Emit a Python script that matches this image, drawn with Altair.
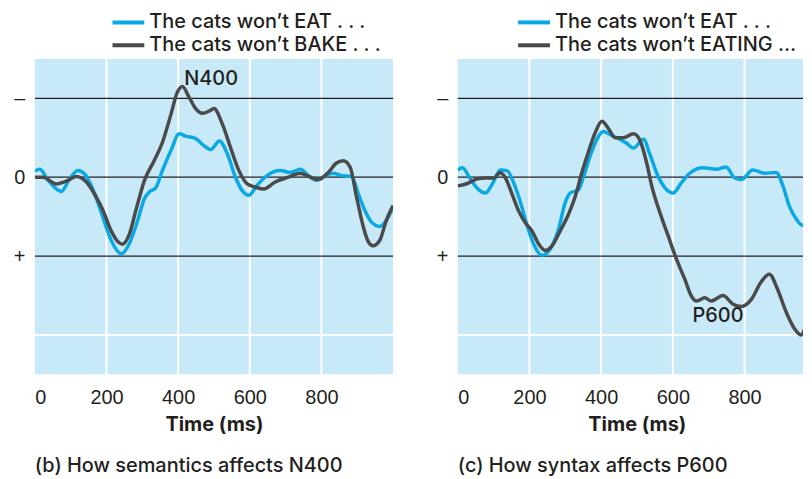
import altair as alt
import pandas as pd

FONT = "Inter"
NUM_FONT = "Liberation Sans"
TEXT = "#231f20"
BLUE = "#0aa8e4"
GRAY = "#4a4a4a"
BG = "#c8e9f8"

X_TICKS = [0, 200, 400, 600, 800]
X_GRID = [200, 400, 600, 800]
Y_TICKS = [-1, 0, 1]
Y_WHITE = [2]

# Panel (b): semantics
B_EAT_T = [0, 14, 37, 74, 97, 120, 139, 167, 190, 213, 241, 264, 287, 306, 319, 338, 356, 380, 403, 421,
           449, 472, 491, 515, 537, 560, 579, 597, 620, 648, 685, 713, 741, 764, 787, 810, 833, 856, 884,
           903, 921, 940, 963, 981, 1000]
B_EAT_V = [-0.08, -0.1, 0.04, 0.18, 0.02, -0.085, -0.04, 0.21, 0.51, 0.80, 0.97, 0.84, 0.55, 0.27, 0.19,
           0.13, -0.085, -0.34, -0.55, -0.52, -0.49, -0.40, -0.35, -0.46, -0.30, 0.0, 0.17, 0.23, 0.105,
           -0.02, -0.085, -0.06, -0.1, -0.02, 0.04, -0.02, -0.05, -0.02, -0.01, 0.21, 0.42, 0.57, 0.625,
           0.55, 0.38]
B_BAKE_T = [0, 23, 60, 88, 116, 144, 171, 190, 213, 232, 245, 264, 282, 306, 333, 356, 380, 398, 412, 431,
            449, 468, 491, 500, 523, 546, 569, 593, 616, 639, 671, 708, 741, 764, 792, 819, 842, 861, 880,
            898, 917, 931, 944, 963, 981, 1000]
B_BAKE_V = [0.0, 0.0, 0.085, 0.05, -0.01, 0.06, 0.25, 0.42, 0.68, 0.82, 0.85, 0.72, 0.42, 0.04, -0.21,
            -0.44, -0.80, -1.08, -1.15, -1.01, -0.87, -0.81, -0.85, -0.87, -0.68, -0.38, -0.09, 0.085,
            0.127, 0.15, 0.06, 0.0, -0.05, -0.01, 0.03, -0.06, -0.18, -0.21, -0.13, 0.25, 0.63, 0.82, 0.87,
            0.80, 0.55, 0.36]

# Panel (c): syntax
C_EAT_T = [0, 13, 36, 59, 78, 96, 119, 138, 156, 175, 194, 212, 235, 258, 281, 300, 314, 337, 351, 369,
           388, 406, 425, 453, 471, 490, 518, 536, 555, 578, 601, 624, 647, 684, 721, 749, 772, 791, 823,
           856, 888, 907, 925, 944, 962, 981, 1000]
C_EAT_V = [-0.09, -0.12, 0.03, 0.16, 0.2, 0.09, -0.09, -0.08, 0.07, 0.32, 0.62, 0.85, 0.99, 0.91, 0.66,
           0.32, 0.2, 0.16, -0.01, -0.265, -0.48, -0.58, -0.54, -0.48, -0.43, -0.37, -0.48, -0.29, -0.05,
           0.135, 0.2, 0.07, -0.05, -0.12, -0.1, -0.13, 0.01, 0.03, -0.09, -0.05, -0.06, 0.11, 0.37, 0.53,
           0.61, 0.47, 0.28]
C_EATING_T = [0, 27, 55, 78, 101, 118, 133, 152, 170, 189, 207, 226, 244, 263, 286, 309, 328, 346, 365,
              383, 402, 420, 439, 462, 490, 508, 527, 541, 564, 587, 610, 633, 652, 666, 689, 707, 740, 768,
              791, 819, 846, 869, 892, 916, 939, 957, 976, 986, 1000]
C_EATING_V = [0.11, 0.08, 0.02, 0.01, 0.01, -0.055, 0.01, 0.22, 0.43, 0.58, 0.68, 0.85, 0.93, 0.87, 0.68,
              0.47, 0.24, -0.055, -0.33, -0.56, -0.71, -0.62, -0.5, -0.5, -0.55, -0.47, -0.18, 0.11, 0.45,
              0.745, 1.04, 1.29, 1.51, 1.57, 1.53, 1.57, 1.5, 1.61, 1.64, 1.55, 1.33, 1.23, 1.42, 1.71, 1.92,
              2.0, 1.83, 1.71, 1.45]

B_NAMES = ["The cats won\u2019t EAT . . .", "The cats won\u2019t BAKE . . ."]
C_NAMES = ["The cats won\u2019t EAT . . .", "The cats won\u2019t EATING . . ."]
B_ANN = {"t": [492], "v": [-1.25], "label": ["N400"]}
C_ANN = {"t": [726], "v": [1.76], "label": ["P600"]}
B_CAPTION = "(b) How semantics affects N400"
C_CAPTION = "(c) How syntax affects P600"


def panel(t1, v1, t2, v2, names, ann, caption, lx, ly, xmax, width, title_dx, label_limit):
    df = pd.DataFrame({
        "t": t1 + t2,
        "v": v1 + v2,
        "cond": [names[0]] * len(t1) + [names[1]] * len(t2),
    })
    xs = alt.Scale(domain=[0, xmax], nice=False, zero=False)
    ys = alt.Scale(domain=[-1.5, 2.5], reverse=True, nice=False, zero=False)
    X = alt.X("t:Q", scale=xs, axis=alt.Axis(
        values=X_TICKS, title="Time (ms)", grid=False, ticks=False, domain=False,
        labelFontSize=20, labelFont=NUM_FONT, labelColor=TEXT, labelPadding=13,
        titleFontSize=20, titleFont=FONT, titleColor=TEXT, titleFontWeight="bold", titlePadding=7,
        titleX=width / 2 + title_dx))
    Y = alt.Y("v:Q", scale=ys, axis=alt.Axis(
        values=Y_TICKS, title=None, grid=False, ticks=False, domain=False,
        labelExpr="datum.value == -1 ? '\u2013' : (datum.value == 0 ? '0' : '+')",
        labelFontSize=20, labelFont=NUM_FONT, labelColor=TEXT, labelPadding=10))

    vgrid = alt.Chart(pd.DataFrame({"t": X_GRID})).mark_rule(color="white", strokeWidth=2).encode(x=X)
    hwhite = alt.Chart(pd.DataFrame({"v": Y_WHITE})).mark_rule(color="white", strokeWidth=2).encode(y=Y)
    hblack = alt.Chart(pd.DataFrame({"v": Y_TICKS})).mark_rule(color=TEXT, strokeWidth=1.3).encode(y=Y)
    lines = alt.Chart(df).mark_line(strokeWidth=3.5, interpolate="monotone", clip=True).encode(
        x=X, y=Y,
        color=alt.Color("cond:N", sort=names,
                        scale=alt.Scale(domain=names, range=[BLUE, GRAY]),
                        legend=alt.Legend(orient="none", legendX=lx, legendY=ly, title=None,
                                          symbolType="M-2,0H2", symbolSize=256, symbolStrokeWidth=4,
                                          labelFontSize=20, labelFont=FONT, labelFontWeight=500,
                                          labelColor=TEXT, labelOffset=11, rowPadding=3, padding=0,
                                          labelLimit=label_limit)),
        detail="cond:N",
    )
    text = alt.Chart(pd.DataFrame(ann)).mark_text(
        fontSize=20, font=FONT, fontWeight=500, color=TEXT).encode(x=X, y=Y, text="label:N")
    return alt.layer(vgrid, hwhite, hblack, lines, text).properties(
        width=width, height=317,
        title=alt.TitleParams(text=caption, orient="bottom", anchor="start", frame="group",
                              fontSize=20, fontWeight=500, font=FONT, color=TEXT, offset=22),
    )


left = panel(B_EAT_T, B_EAT_V, B_BAKE_T, B_BAKE_V, B_NAMES, B_ANN, B_CAPTION,
             84, -46.7, 1000, 360, 0, 400)
right = panel(C_EAT_T, C_EAT_V, C_EATING_T, C_EATING_V, C_NAMES, C_ANN, C_CAPTION,
              66.7, -46.7, 963, 347, 6.5, 248)

chart = alt.hconcat(left, right, spacing=42).resolve_scale(
    color="independent", x="independent", y="independent"
).resolve_legend(color="independent").configure_view(fill=BG, stroke=None).properties(
    padding={"left": 5, "top": 3, "right": 0, "bottom": 0}
)

chart.save("out.html", embed_options={"renderer": "svg", "actions": False})
